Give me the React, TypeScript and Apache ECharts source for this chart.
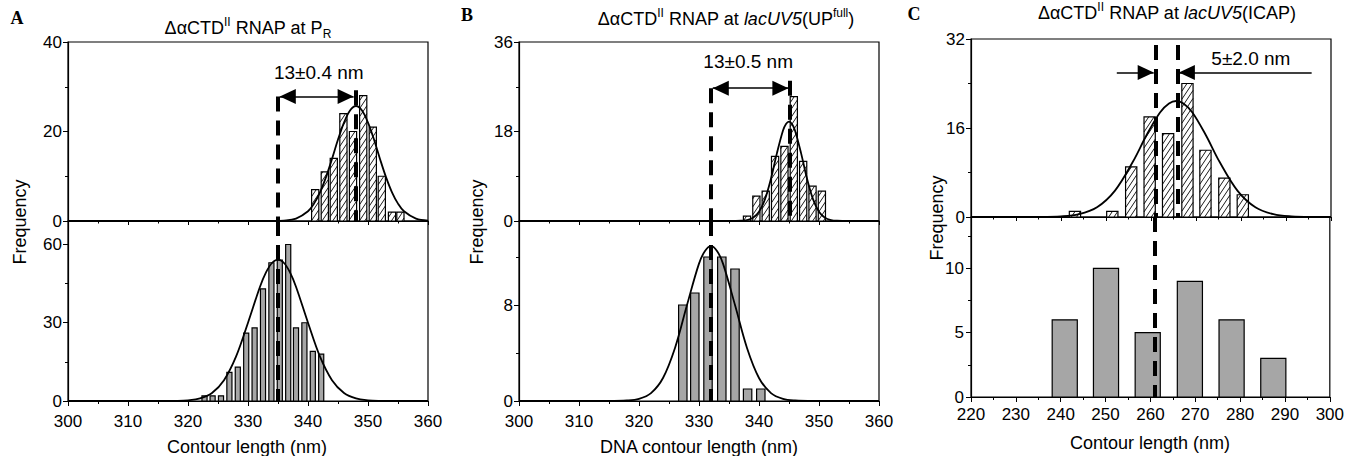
import React, { useEffect, useRef } from "react";
import * as echarts from "echarts";

// ---------------- data ----------------
// Panel A: ΔαCTD^II RNAP at P_R
const aTopCenters = [341.2, 342.8, 344.3, 345.9, 347.5, 349.2, 350.8, 352.3, 354.0, 355.4];
const aTopCounts = [7, 11, 14, 24, 20, 28, 21, 10, 2, 2];
const aTopFitX = [300, 330, 334, 336, 338, 340, 341, 342, 343, 344, 345, 346, 347, 348, 349, 350, 351, 352, 353, 354, 355, 356, 358, 360];
const aTopFitY = [0, 0, 0.01, 0.1, 0.54, 2.17, 3.88, 6.41, 9.8, 13.86, 18.2, 22.0, 24.7, 25.7, 24.7, 22.0, 18.2, 13.86, 9.8, 6.41, 3.88, 2.17, 0.54, 0.1];
const aBotCenters = [322.75, 324.1, 325.5, 326.9, 328.3, 329.7, 331.1, 332.5, 333.9, 335.3, 336.7, 338.0, 339.4, 340.8, 342.2];
const aBotCounts = [2, 2, 2, 11, 13, 26, 28, 43, 53, 54, 60, 28, 30, 19, 18];
const aBotFitX = [300, 315, 318, 320, 322, 324, 326, 328, 330, 332, 333, 334, 335, 336, 337, 338, 340, 342, 344, 346, 348, 350, 352, 355, 360];
const aBotFitY = [0, 0, 0.06, 0.27, 0.99, 3.1, 8.0, 17.0, 30.0, 43.8, 49.3, 52.9, 54.2, 52.9, 49.3, 43.8, 30.0, 17.0, 8.0, 3.1, 0.99, 0.27, 0.06, 0, 0];

// Panel B: ΔαCTD^II RNAP at lacUV5(UP^full)
const bTopCenters = [338.0, 339.56, 341.12, 342.68, 344.24, 345.8, 347.36, 348.92, 350.48];
const bTopCounts = [1, 5, 6, 13, 15, 25, 12, 7, 6];
const bTopFitX = [300, 335, 337, 338, 339, 340, 341, 342, 343, 344, 344.5, 345, 345.5, 346, 347, 348, 349, 350, 351, 352, 353, 355, 360];
const bTopFitY = [0, 0, 0.05, 0.2, 0.67, 1.88, 4.41, 8.54, 13.7, 18.2, 19.53, 20, 19.53, 18.2, 13.7, 8.54, 4.41, 1.88, 0.67, 0.2, 0.05, 0, 0];
const bBotCenters = [327.3, 329.3, 331.5, 333.8, 336.0, 338.1, 340.3];
const bBotCounts = [8, 9, 12, 12, 11, 1, 1];
const bBotFitX = [300, 315, 318, 320, 322, 324, 326, 328, 330, 331, 332, 333, 334, 336, 338, 340, 342, 344, 346, 349, 360];
const bBotFitY = [0, 0, 0.04, 0.18, 0.66, 1.92, 4.42, 8.0, 11.45, 12.5, 12.9, 12.5, 11.45, 8.0, 4.42, 1.92, 0.66, 0.18, 0.04, 0, 0];

// Panel C: ΔαCTD^II RNAP at lacUV5(ICAP)
const cTopCenters = [243.1, 251.4, 255.6, 259.7, 263.8, 268.1, 272.1, 276.3, 280.4];
const cTopCounts = [1, 1, 9, 18, 15, 24, 12, 7, 4];
const cTopFitX = [220, 230, 235, 240, 244, 248, 252, 256, 259, 262, 264, 265.6, 267.2, 269.2, 272.2, 275.2, 279.2, 283.2, 287.2, 291.2, 296.2, 300];
const cTopFitY = [0, 0, 0.01, 0.11, 0.5, 1.75, 4.75, 9.97, 14.7, 18.8, 20.4, 20.85, 20.4, 18.8, 14.7, 9.97, 4.75, 1.75, 0.5, 0.11, 0.01, 0];
const cBotCenters = [240.9, 250.1, 259.4, 268.8, 278.1, 287.4];
const cBotCounts = [6, 10, 5, 9, 6, 3];

// peak positions (dashed lines) and annotations
const aPeaks = [335, 347.9];
const bPeaks = [332, 345.2];
const cPeaks = [261, 266];
const aShiftText = "13±0.4 nm";
const bShiftText = "13±0.5 nm";
const cShiftText = "5±2.0 nm";

// axis ticks
const xRangeAB = [300, 360];
const xRangeC = [220, 300];
const yMax = [40, 69, 36, 15, 32, 14];
const yMajorTicks = [[0, 20, 40], [0, 30, 60], [0, 18, 36], [0, 8], [0, 16, 32], [0, 5, 10]];
const yMinorTicks = [[10, 30], [15, 45], [9, 27], [4, 12], [8, 24], [2.5, 7.5, 12.5]];

// ---------------- layout / style ----------------
const FONT = '"Liberation Sans", Arial, Helvetica, sans-serif';
const GRIDS = [
  { left: 68, top: 42, width: 360, height: 179 },
  { left: 68, top: 221, width: 360, height: 180 },
  { left: 519, top: 42, width: 360, height: 179 },
  { left: 519, top: 221, width: 360, height: 180 },
  { left: 971, top: 39, width: 360, height: 178 },
  { left: 971, top: 217, width: 360, height: 180 },
];

const pairs = (xs: number[], ys: number[]) => xs.map((x, i) => [x, ys[i]]);

function hatchLines(x: number, y: number, w: number, h: number) {
  const s = 1.5;
  const step = 8;
  const out: any[] = [];
  const cMin = s * x + y;
  const cMax = s * (x + w) + (y + h);
  for (let c = Math.ceil(cMin / step) * step; c <= cMax; c += step) {
    const xa = Math.max(x, (c - (y + h)) / s);
    const xb = Math.min(x + w, (c - y) / s);
    if (xb - xa > 0.05) {
      out.push({
        type: "line",
        shape: { x1: xa, y1: c - s * xa, x2: xb, y2: c - s * xb },
        style: { stroke: "#000", lineWidth: 0.9 },
      });
    }
  }
  return out;
}

const DASH = { type: [15, 9], width: 4, color: "#000", cap: "butt" };
const ARROW = { type: "solid", width: 1.5, color: "#000" };
const dashLine = (x: number, y0: number, y1: number) => [
  { coord: [x, y0], symbol: "none", lineStyle: DASH },
  { coord: [x, y1], symbol: "none", lineStyle: DASH },
];
const arrowLine = (x0: number, x1: number, y: number, headStart: boolean, headEnd: boolean) => [
  { coord: [x0, y], symbol: headStart ? "triangle" : "none", symbolSize: [15, 16], symbolOffset: [0, 8], lineStyle: ARROW },
  { coord: [x1, y], symbol: headEnd ? "triangle" : "none", symbolSize: [15, 16], symbolOffset: [0, 8], lineStyle: ARROW },
];
const note = (x: number, y: number, text: string) => ({
  coord: [x, y],
  symbol: "rect",
  symbolSize: 1,
  itemStyle: { color: "rgba(0,0,0,0)" },
  label: { show: true, position: "inside", formatter: text, color: "#000", fontSize: 19, fontFamily: FONT },
});

function barSeries(i: number, data: number[][], barW: number, hatched: boolean, lines: any[], notes: any[]) {
  return {
    type: "custom",
    xAxisIndex: i,
    yAxisIndex: i,
    data,
    silent: true,
    renderItem: (_params: any, api: any) => {
      const cx = api.value(0);
      const v = api.value(1);
      const p0 = api.coord([cx - barW / 2, v]);
      const p1 = api.coord([cx + barW / 2, 0]);
      const shape = { x: p0[0], y: p0[1], width: p1[0] - p0[0], height: p1[1] - p0[1] };
      const children: any[] = [];
      if (hatched) {
        children.push({ type: "rect", shape, style: { fill: "#fff", stroke: "none" } });
        hatchLines(shape.x, shape.y, shape.width, shape.height).forEach((l) => children.push(l));
        children.push({ type: "rect", shape, style: { fill: "none", stroke: "#000", lineWidth: 1.2 } });
      } else {
        children.push({ type: "rect", shape, style: { fill: "#a6a6a6", stroke: "#000", lineWidth: 1.2 } });
      }
      return { type: "group", children };
    },
    markLine: {
      silent: true,
      animation: false,
      symbol: ["none", "none"],
      label: { show: false },
      data: lines,
    },
    markPoint: {
      silent: true,
      animation: false,
      data: notes,
    },
  };
}

function fitSeries(i: number, data: number[][]) {
  return {
    type: "line",
    xAxisIndex: i,
    yAxisIndex: i,
    data,
    smooth: 0.35,
    symbol: "none",
    silent: true,
    lineStyle: { color: "#000", width: 1.8 },
  };
}

function xAxisCfg(i: number, range: number[], bottom: boolean, margin: number) {
  return {
    type: "value",
    gridIndex: i,
    min: range[0],
    max: range[1],
    interval: 10,
    axisLine: { show: true, onZero: false, lineStyle: { color: "#000", width: 1.2 } },
    axisTick: { show: true, length: bottom ? 5 : 4, lineStyle: { color: "#000", width: 1 } },
    minorTick: { show: true, splitNumber: 2, length: bottom ? 3 : 2.5, lineStyle: { color: "#000", width: 1 } },
    axisLabel: { show: bottom, color: "#000", fontSize: 17, fontFamily: FONT, margin },
    splitLine: { show: false },
    minorSplitLine: { show: false },
  };
}

function yAxisCfg(i: number, margin: number) {
  return {
    type: "value",
    gridIndex: i,
    min: 0,
    max: yMax[i],
    position: "left",
    axisLine: { show: true, onZero: false, lineStyle: { color: "#000", width: 1.2 } },
    axisTick: { show: true, length: 5, customValues: yMajorTicks[i], lineStyle: { color: "#000", width: 1 } },
    axisLabel: { show: true, customValues: yMajorTicks[i], color: "#000", fontSize: 17, fontFamily: FONT, margin },
    splitLine: { show: false },
  };
}

function yMinorCfg(i: number) {
  return {
    type: "value",
    gridIndex: i,
    min: 0,
    max: yMax[i],
    position: "left",
    axisLine: { show: false },
    axisTick: { show: true, length: 3, customValues: yMinorTicks[i], lineStyle: { color: "#000", width: 1 } },
    axisLabel: { show: false },
    splitLine: { show: false },
  };
}

const rich = {
  m: { font: `18px ${FONT}`, fill: "#000", lineHeight: 24 },
  i: { font: `italic 18px ${FONT}`, fill: "#000", lineHeight: 24 },
  sp: { font: `12px ${FONT}`, fill: "#000", lineHeight: 12, verticalAlign: "top" },
  sb: { font: `12px ${FONT}`, fill: "#000", lineHeight: 12, verticalAlign: "bottom" },
};

function txt(x: number, y: number, text: string, font: string, rotation = 0, withRich = false) {
  const style: any = {
    text,
    font,
    fill: "#000",
    align: "center",
    verticalAlign: "middle",
    textAlign: "center",
    textVerticalAlign: "middle",
  };
  if (withRich) style.rich = rich;
  return { type: "text", x, y, rotation, silent: true, style };
}

export default function App() {
  const ref = useRef<HTMLDivElement>(null);

  useEffect(() => {
    if (!ref.current) return;
    const chart = echarts.init(ref.current, null, { renderer: "svg" });

    const series: any[] = [
      barSeries(0, pairs(aTopCenters, aTopCounts), 1.2, true,
        [dashLine(aPeaks[0], 27.8, 0), dashLine(aPeaks[1], 29.2, 0), arrowLine(aPeaks[0] + 0.3, aPeaks[1] - 0.3, 27.8, true, true)],
        [note(341.8, 33.1, aShiftText)]),
      fitSeries(0, pairs(aTopFitX, aTopFitY)),
      barSeries(1, pairs(aBotCenters, aBotCounts), 0.85, false, [dashLine(aPeaks[0], yMax[1], 0)], []),
      fitSeries(1, pairs(aBotFitX, aBotFitY)),
      barSeries(2, pairs(bTopCenters, bTopCounts), 1.2, true,
        [dashLine(bPeaks[0], 26.7, 0), dashLine(bPeaks[1], 28.2, 0), arrowLine(bPeaks[0] + 0.3, bPeaks[1] - 0.3, 26.7, true, true)],
        [note(338.2, 32.05, bShiftText)]),
      fitSeries(2, pairs(bTopFitX, bTopFitY)),
      barSeries(3, pairs(bBotCenters, bBotCounts), 1.4, false, [dashLine(bPeaks[0], yMax[3], 0)], []),
      fitSeries(3, pairs(bBotFitX, bBotFitY)),
      barSeries(4, pairs(cTopCenters, cTopCounts), 2.5, true,
        [dashLine(cPeaks[0], 30.9, 0), dashLine(cPeaks[1], 30.9, 0),
         arrowLine(252.4, cPeaks[0] - 0.4, 26, false, true), arrowLine(295.7, cPeaks[1] + 0.2, 26, false, true)],
        [note(282.2, 28.5, cShiftText)]),
      fitSeries(4, pairs(cTopFitX, cTopFitY)),
      barSeries(5, pairs(cBotCenters, cBotCounts), 5.6, false, [dashLine(cPeaks[0], yMax[5], 0)], []),
    ];

    const option: any = {
      animation: false,
      backgroundColor: "#fff",
      textStyle: { fontFamily: FONT, color: "#000" },
      grid: GRIDS.map((g) => ({ ...g, show: true, borderColor: "#000", borderWidth: 1.2, backgroundColor: "transparent" })),
      xAxis: [
        xAxisCfg(0, xRangeAB, false, 0),
        xAxisCfg(1, xRangeAB, true, 12),
        xAxisCfg(2, xRangeAB, false, 0),
        xAxisCfg(3, xRangeAB, true, 12),
        xAxisCfg(4, xRangeC, false, 0),
        xAxisCfg(5, xRangeC, true, 9),
      ],
      yAxis: [
        yAxisCfg(0, 6), yAxisCfg(1, 6), yAxisCfg(2, 6), yAxisCfg(3, 6), yAxisCfg(4, 6), yAxisCfg(5, 7),
        yMinorCfg(0), yMinorCfg(1), yMinorCfg(2), yMinorCfg(3), yMinorCfg(4), yMinorCfg(5),
      ],
      series,
      graphic: [
        txt(17, 18, "A", 'bold 18px "Liberation Serif", "Times New Roman", serif'),
        txt(467, 15, "B", 'bold 18px "Liberation Serif", "Times New Roman", serif'),
        txt(914, 14, "C", 'bold 18px "Liberation Serif", "Times New Roman", serif'),
        txt(248, 28, "{m|ΔαCTD}{sp|II}{m| RNAP at P}{sb|R}", `18px ${FONT}`, 0, true),
        txt(726, 19, "{m|ΔαCTD}{sp|II}{m| RNAP at }{i|lacUV5}{m|(UP}{sp|full}{m|)}", `18px ${FONT}`, 0, true),
        txt(1167, 13, "{m|ΔαCTD}{sp|II}{m| RNAP at }{i|lacUV5}{m|(ICAP)}", `18px ${FONT}`, 0, true),
        txt(20, 222, "Frequency", `18px ${FONT}`, Math.PI / 2),
        txt(477, 222, "Frequency", `18px ${FONT}`, Math.PI / 2),
        txt(937, 218, "Frequency", `18px ${FONT}`, Math.PI / 2),
        txt(247, 447, "Contour length (nm)", `18px ${FONT}`),
        txt(699, 447, "DNA contour length (nm)", `18px ${FONT}`),
        txt(1150, 443, "Contour length (nm)", `18px ${FONT}`),
      ],
    };

    chart.setOption(option);
    return () => chart.dispose();
  }, []);

  return (
    <div
      ref={ref}
      style={{ position: "absolute", left: 0, top: 0, width: 1347, height: 456, background: "#fff" }}
    />
  );
}
